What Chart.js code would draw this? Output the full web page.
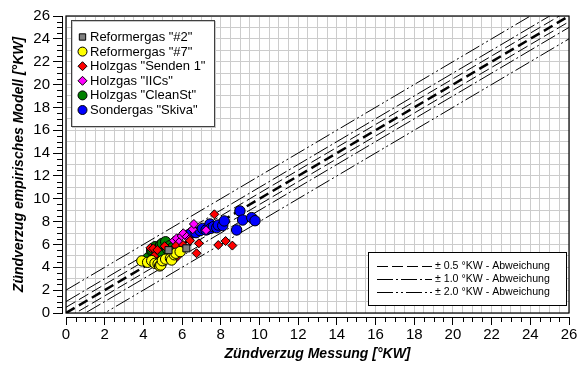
<!DOCTYPE html>
<html>
<head>
<meta charset="utf-8">
<script src="https://cdn.jsdelivr.net/npm/chart.js@4/dist/chart.umd.min.js"></script>
<style>
  html, body { margin: 0; padding: 0; background: #fff; }
  #wrap { width: 579px; height: 369px; }
</style>
</head>
<body>
<div id="wrap"><canvas id="c"></canvas></div>
<script>
// Axis range (°KW), same on both axes
const axisMin = 0;
const axisMax = 26;
const labelStep = 2;

// Tolerance bands around the ideal line y = x
const deviations = [0.5, 1.0, 2.0];
const deviationLabels = ['± 0.5 °KW - Abweichung', '± 1.0 °KW - Abweichung', '± 2.0 °KW - Abweichung'];

// Measured vs. modelled ignition delay per gas
const reformer2Mess   = [6.22, 5.30];
const reformer2Modell = [5.66, 5.50];

const reformer7Mess   = [3.92, 4.22, 4.43, 4.60, 4.76, 4.84, 4.90, 4.98, 5.15, 5.40, 5.46, 5.60, 5.68, 5.90];
const reformer7Modell = [4.56, 4.44, 4.58, 4.35, 4.30, 4.12, 4.20, 4.58, 4.72, 4.79, 4.64, 5.10, 5.23, 5.37];

const sendenMess   = [4.36, 4.51, 4.56, 4.72, 5.10, 5.68, 5.72, 6.05, 6.41, 6.75, 6.87, 7.67, 7.87, 8.25, 8.60];
const sendenModell = [5.70, 5.66, 4.99, 5.52, 5.85, 5.87, 4.88, 5.95, 6.33, 5.23, 6.10, 8.64, 5.95, 6.30, 5.90];

const iicsMess   = [5.58, 5.72, 5.85, 5.98, 6.06, 6.24, 6.37, 6.55, 6.61, 7.24];
const iicsModell = [6.33, 6.54, 6.20, 6.74, 6.98, 6.68, 6.45, 7.33, 7.79, 7.25];

const cleanStMess   = [4.25, 4.43, 4.45, 4.60, 4.70, 4.86, 4.89, 4.91, 4.98, 5.15, 5.25, 5.37, 5.50, 5.80];
const cleanStModell = [4.84, 5.43, 5.55, 5.80, 5.30, 5.80, 5.95, 5.14, 6.10, 6.24, 5.58, 5.89, 5.70, 5.95];

const skivaMess   = [6.32, 6.49, 6.72, 6.93, 7.06, 7.24, 7.44, 7.48, 7.62, 7.79, 7.87, 8.10, 8.18, 8.82, 8.99, 9.13, 9.60, 9.77];
const skivaModell = [6.83, 7.03, 7.03, 7.21, 7.41, 7.27, 7.79, 7.41, 7.56, 7.47, 7.70, 7.65, 8.06, 7.27, 8.93, 8.14, 8.35, 8.08];

const FONT = "'Liberation Sans', Arial, sans-serif";

function pts(xs, ys) { return xs.map((x, i) => ({ x: x, y: ys[i] })); }

function marker(label, xs, ys, style, color, radius) {
  return {
    label: label, data: pts(xs, ys), pointStyle: style,
    pointRadius: radius, pointHoverRadius: radius,
    backgroundColor: color, borderColor: '#000', borderWidth: 1,
    showLine: false, isMarker: true
  };
}

function band(offset, dash, width) {
  return {
    data: [{ x: axisMin, y: axisMin + offset }, { x: axisMax, y: axisMax + offset }],
    showLine: true, pointRadius: 0, borderColor: '#000', borderWidth: width,
    borderDash: dash, order: 10, isBand: true
  };
}

const bandDashes = [[11, 4], [16, 3, 2, 3], [16, 3, 2, 3, 2, 3]];

const datasets = [
  marker('Reformergas "#2"', reformer2Mess, reformer2Modell, 'rect', '#808080', 5),
  marker('Reformergas "#7"', reformer7Mess, reformer7Modell, 'circle', '#ffff00', 5.2),
  marker('Holzgas "Senden 1"', sendenMess, sendenModell, 'rectRot', '#ff0000', 4.5),
  marker('Holzgas "IICs"', iicsMess, iicsModell, 'rectRot', '#ff00ff', 4.5),
  marker('Holzgas "CleanSt"', cleanStMess, cleanStModell, 'circle', '#008000', 5.2),
  marker('Sondergas "Skiva"', skivaMess, skivaModell, 'circle', '#0000ff', 5.2),
  band(0, [10, 5], 2.5)
];
deviations.forEach((d, i) => {
  const ds = band(d, bandDashes[i], 1);
  ds.legendText = deviationLabels[i];
  datasets.push(ds);
  datasets.push(band(-d, bandDashes[i], 1));
});

const decorations = {
  id: 'decorations',
  afterDraw(chart) {
    const ctx = chart.ctx;
    const a = chart.chartArea;
    ctx.save();
    // frame of the plot area
    ctx.strokeStyle = '#000';
    ctx.lineWidth = 1.2;
    ctx.strokeRect(a.left, a.top, a.right - a.left, a.bottom - a.top);

    // minor ticks on the outer axes
    const xa = chart.scales.xa, ya = chart.scales.ya;
    ctx.lineWidth = 1;
    ctx.beginPath();
    for (let v = axisMin; v <= axisMax + 1e-9; v += 0.5) {
      if (Math.abs(v / labelStep - Math.round(v / labelStep)) < 1e-9) continue;
      const px = Math.round(xa.getPixelForValue(v)) + 0.5;
      ctx.moveTo(px, xa.top);
      ctx.lineTo(px, xa.top + 5);
      const py = Math.round(ya.getPixelForValue(v)) + 0.5;
      ctx.moveTo(ya.right, py);
      ctx.lineTo(ya.right - 5, py);
    }
    ctx.stroke();

    // marker legend (top left)
    const markers = chart.data.datasets.filter(d => d.isMarker);
    const bx = 71, by = 20, bw = 143, bh = 106;
    ctx.fillStyle = '#fff';
    ctx.fillRect(bx, by, bw, bh);
    ctx.strokeStyle = '#c8c8c8';
    ctx.lineWidth = 1;
    ctx.strokeRect(bx + 1.5, by + 1.5, bw, bh);
    ctx.strokeStyle = '#404040';
    ctx.strokeRect(bx + 0.5, by + 0.5, bw, bh);
    ctx.font = '13px ' + FONT;
    ctx.textBaseline = 'middle';
    ctx.textAlign = 'left';
    markers.forEach((d, i) => {
      const y = by + 17 + i * 14.6;
      ctx.fillStyle = d.backgroundColor;
      ctx.strokeStyle = '#000';
      ctx.lineWidth = 1;
      const r = d.pointStyle === 'rect' ? 4.5 : 4.5;
      Chart.helpers.drawPoint(ctx, { pointStyle: d.pointStyle, radius: r, rotation: 0, borderWidth: 1 }, 82.5, y);
      ctx.fillStyle = '#000';
      ctx.fillText(d.label, 90, y + 0.5);
    });

    // line legend (bottom right)
    const lines = chart.data.datasets.filter(d => d.legendText);
    const lx = 368, ly = 252, lw = 198, lh = 53;
    ctx.fillStyle = '#fff';
    ctx.fillRect(lx, ly, lw, lh);
    ctx.strokeStyle = '#000';
    ctx.lineWidth = 1;
    ctx.strokeRect(lx + 0.5, ly + 0.5, lw, lh);
    ctx.font = '10.6px ' + FONT;
    lines.forEach((d, i) => {
      const y = ly + 14 + i * 13;
      ctx.strokeStyle = '#000';
      ctx.lineWidth = d.borderWidth;
      ctx.setLineDash(d.borderDash);
      ctx.beginPath();
      ctx.moveTo(377, y + 0.5);
      ctx.lineTo(432, y + 0.5);
      ctx.stroke();
      ctx.setLineDash([]);
      ctx.fillStyle = '#000';
      ctx.fillText(d.legendText, 435, y + 0.5);
    });
    ctx.restore();
  }
};

new Chart(document.getElementById('c'), {
  type: 'scatter',
  data: { datasets: datasets },
  options: {
    responsive: true,
    maintainAspectRatio: false,
    animation: false,
    events: [],
    layout: { padding: { top: 16, right: 10, left: 0, bottom: 0 } },
    plugins: { legend: { display: false }, tooltip: { enabled: false } },
    scales: {
      x: {
        type: 'linear', position: 'bottom', weight: 0,
        min: axisMin, max: axisMax,
        ticks: { display: false, stepSize: 0.5 },
        grid: { color: '#cccccc', lineWidth: 1, drawTicks: false },
        border: { display: false },
        afterFit(s) { s.height = 4; }
      },
      xa: {
        type: 'linear', position: 'bottom', weight: 1,
        min: axisMin, max: axisMax,
        ticks: { stepSize: labelStep, color: '#000', font: { family: FONT, size: 15 }, padding: 1, maxRotation: 0 },
        grid: { drawOnChartArea: false, tickLength: 8, tickColor: '#000' },
        border: { display: true, color: '#000', width: 1 },
        title: { display: true, text: 'Zündverzug Messung [°KW]', color: '#000',
                 font: { family: FONT, size: 14, weight: 'bold', style: 'italic' }, padding: { top: 0, bottom: 6 } },
        afterFit(s) { s.height = 52; }
      },
      y: {
        type: 'linear', position: 'left', weight: 0,
        min: axisMin, max: axisMax,
        ticks: { display: false, stepSize: 1 },
        grid: { color: '#cccccc', lineWidth: 1, drawTicks: false },
        border: { display: false },
        afterFit(s) { s.width = 4; }
      },
      ya: {
        type: 'linear', position: 'left', weight: 1,
        min: axisMin, max: axisMax,
        ticks: { stepSize: labelStep, color: '#000', font: { family: FONT, size: 15 }, padding: 3 },
        grid: { drawOnChartArea: false, tickLength: 9, tickColor: '#000' },
        border: { display: true, color: '#000', width: 1 },
        title: { display: true, text: 'Zündverzug empirisches Modell [°KW]', color: '#000',
                 font: { family: FONT, size: 14, weight: 'bold', style: 'italic' }, padding: { top: 11, bottom: 0 } },
        afterFit(s) { s.width = 62; }
      }
    }
  },
  plugins: [decorations]
});
</script>
</body>
</html>
